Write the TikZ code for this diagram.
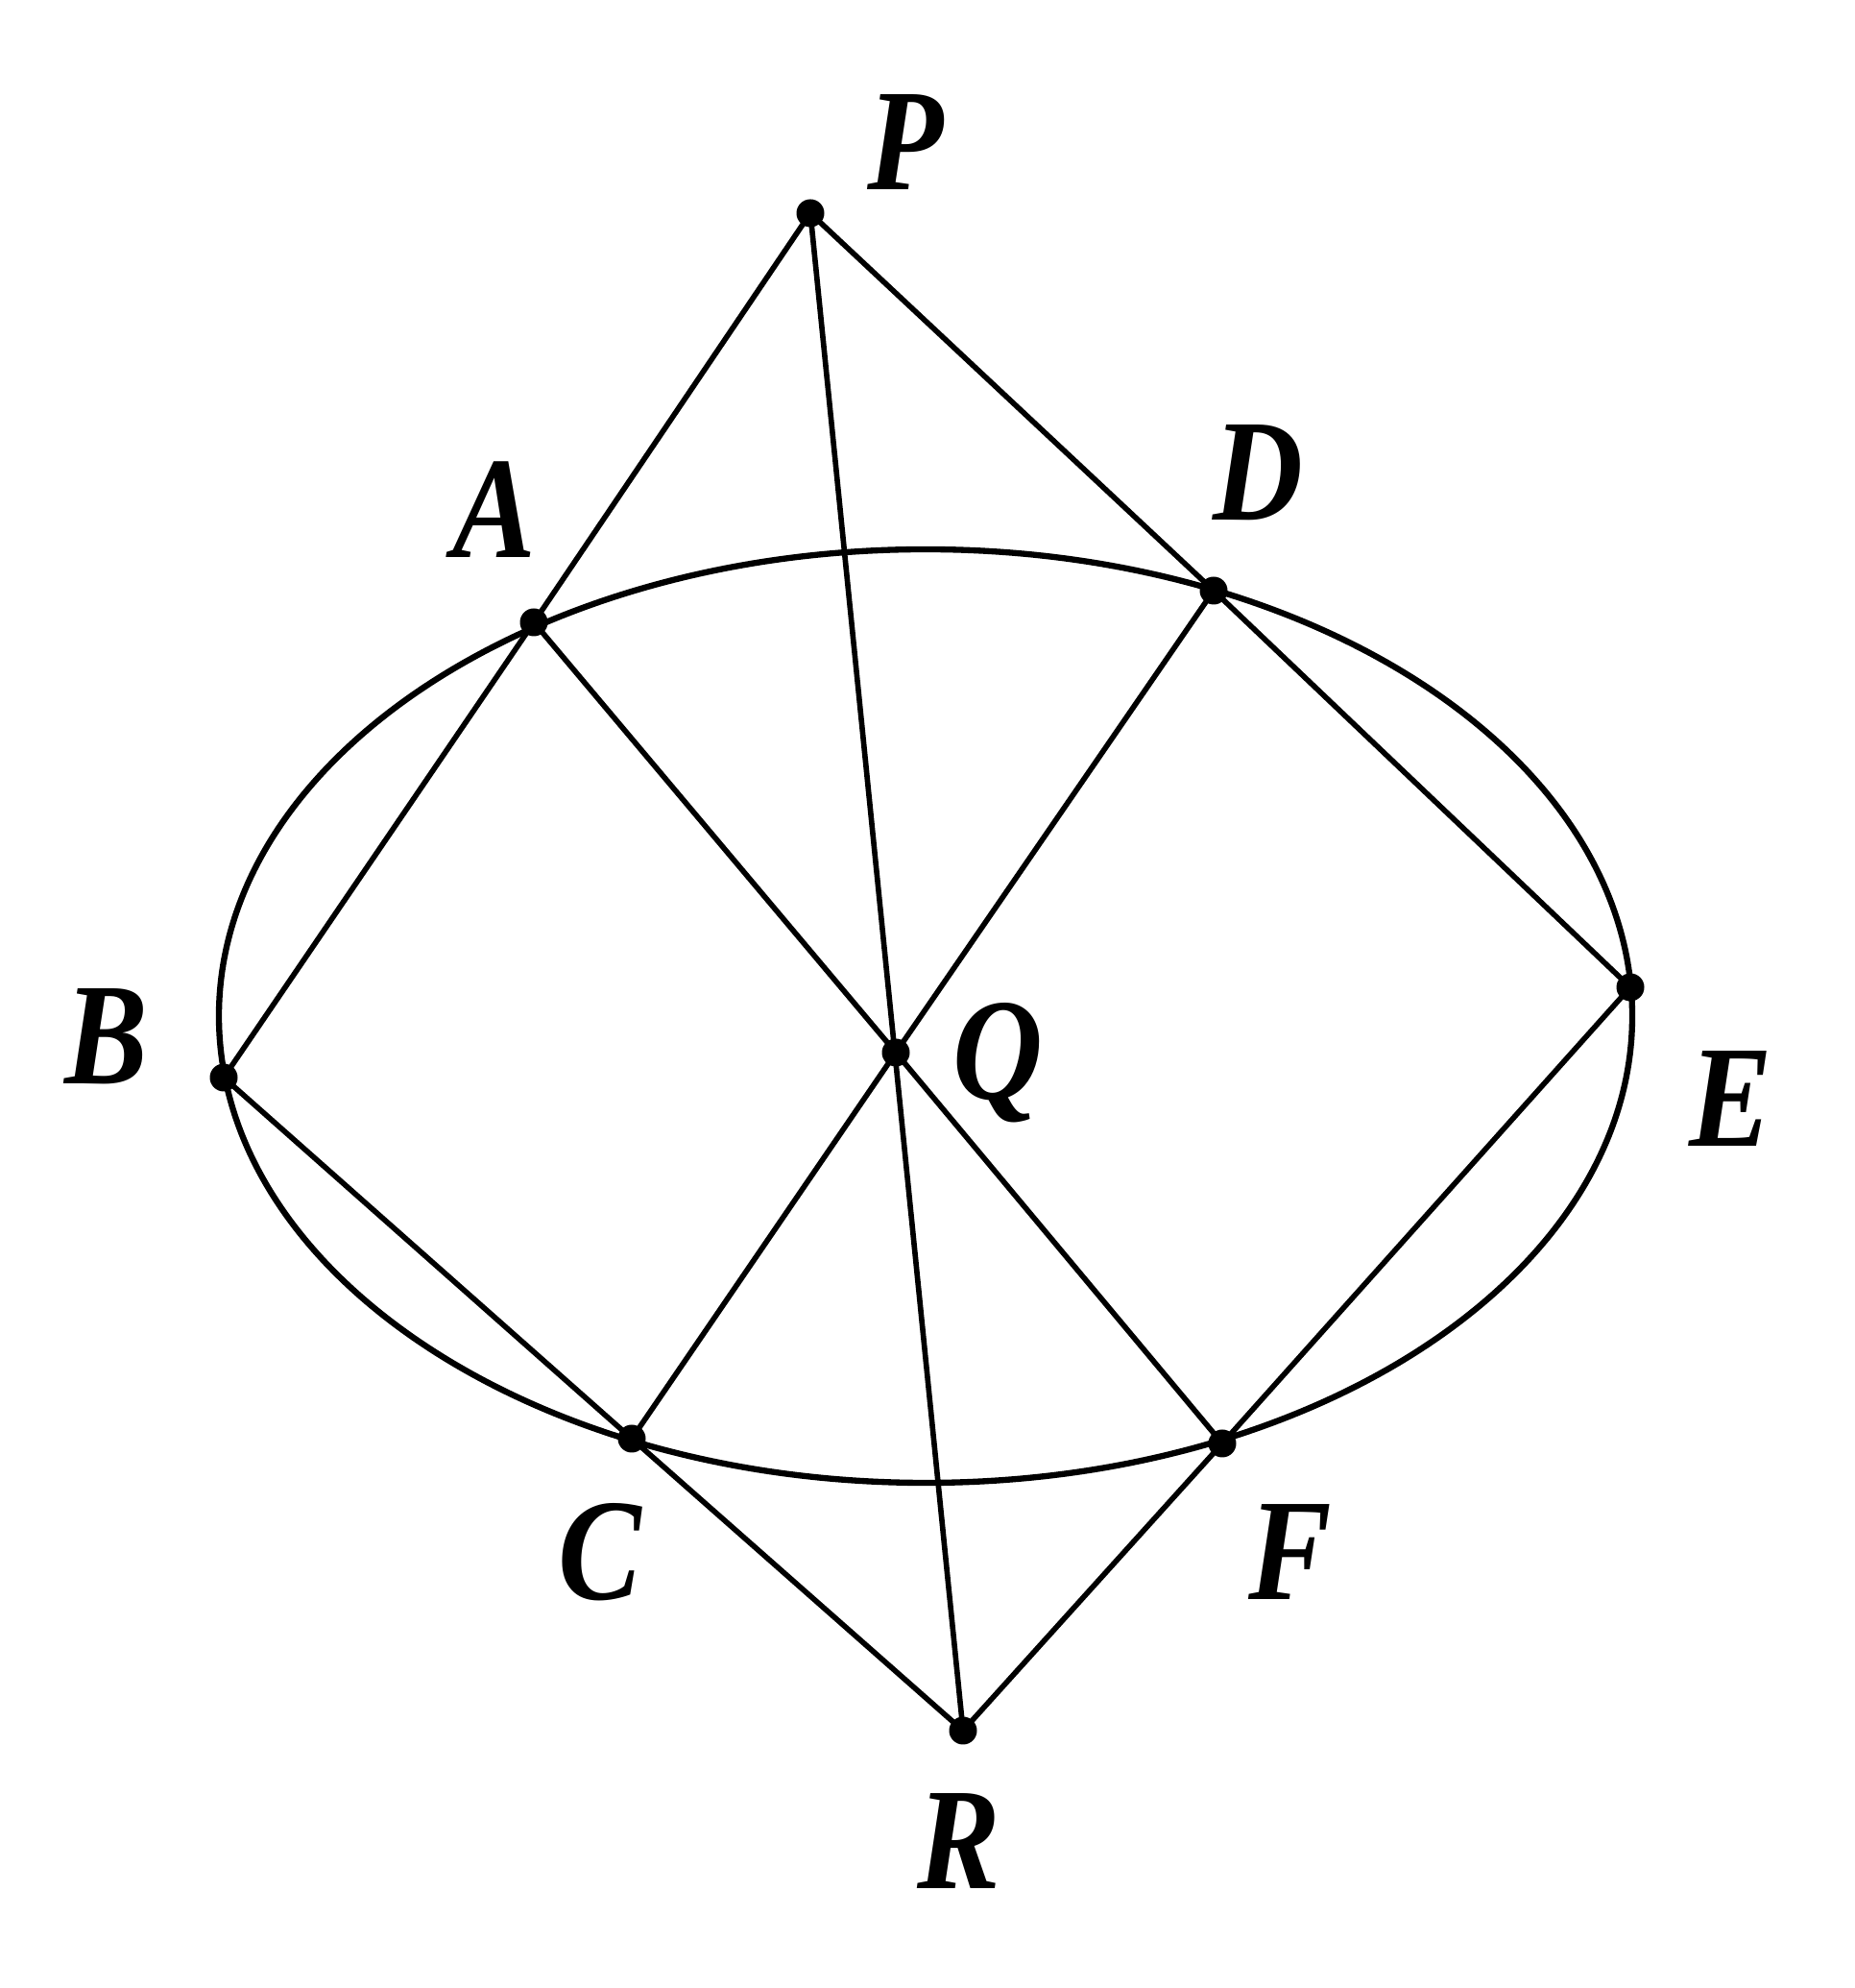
\documentclass[tikz,border=0pt]{standalone}
\usepackage{fontspec}
\setmainfont{Liberation Serif}
\usepackage{tikz}
\usetikzlibrary{positioning,calc}

\newcommand{\ptlabel}[1]{\scalebox{0.86}[1]{#1}}

\begin{document}
\begin{tikzpicture}[line width=1.6pt,
    lbl/.style={font=\fontsize{43}{43}\selectfont\bfseries\itshape, inner sep=0pt, anchor=base}]
    \useasboundingbox (0,0) rectangle (19.32,20.70);

    % Points
    \coordinate (P) at (8.44,18.48);
    \coordinate (A) at (5.56,14.22);
    \coordinate (D) at (12.64,14.55);
    \coordinate (B) at (2.33,9.48);
    \coordinate (Q) at (9.33,9.74);
    \coordinate (E) at (16.98,10.42);
    \coordinate (C) at (6.58,5.72);
    \coordinate (F) at (12.73,5.67);
    \coordinate (R) at (10.03,2.68);

    % Ellipse
    \draw[line width=1.8pt] (9.64,10.12) ellipse [x radius=7.36, y radius=4.86];

    % Lines
    \draw (P) -- (A) -- (B) -- (C) -- (R) -- (F) -- (E) -- (D) -- cycle;
    \draw (P) -- (R);
    \draw (A) -- (Q) -- (F);
    \draw (D) -- (Q) -- (C);

    % Dots
    \foreach \p in {P,A,D,B,Q,E,C,F,R}
        \fill (\p) circle (0.145);

    % Labels
    \node[lbl] (lP) at (9.43,18.72) {\ptlabel{P}};
    \node[lbl] (lA) at (5.15,14.89) {\ptlabel{A}};
    \node[lbl] (lD) at (13.10,15.28) {\ptlabel{D}};
    \node[lbl] (lB) at (1.11,9.41) {\ptlabel{B}};
    \node[lbl] (lQ) at (10.39,9.25) {\ptlabel{Q}};
    \node[lbl] (lE) at (18.03,8.76) {\ptlabel{E}};
    \node[lbl] (lC) at (6.25,4.04) {\ptlabel{C}};
    \node[lbl] (lF) at (13.44,4.04) {\ptlabel{F}};
    \node[lbl] (lR) at (9.99,1.04) {\ptlabel{R}};
\end{tikzpicture}
\end{document}
